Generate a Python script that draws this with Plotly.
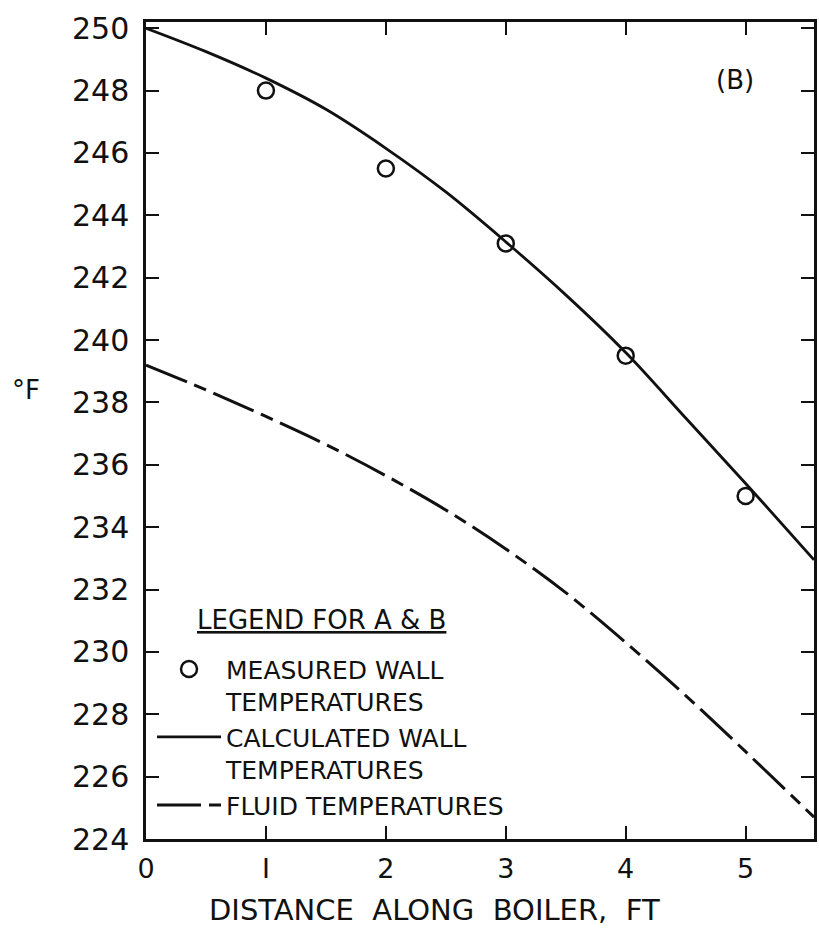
"""Boiler wall and fluid temperatures along the boiler length (panel B)."""

import plotly.graph_objects as go

# Measured wall temperatures (open circles)
measured_x = [1, 2, 3, 4, 5]
measured_t = [248.0, 245.5, 243.1, 239.5, 235.0]

# Calculated wall temperatures (solid curve)
curve_x = [0, 0.5, 1, 1.5, 2, 2.5, 3, 3.5, 4, 4.5, 5, 5.57]
calc_wall_t = [250.0, 249.25, 248.4, 247.4, 246.15, 244.75, 243.15, 241.45, 239.6, 237.5, 235.4, 232.95]

# Fluid temperatures (dash-dot curve)
fluid_t = [239.2, 238.4, 237.55, 236.65, 235.65, 234.55, 233.3, 231.9, 230.3, 228.6, 226.8, 224.7]

x_ticks = [0, 1, 2, 3, 4, 5]
x_tick_text = ["0", "I", "2", "3", "4", "5"]
y_ticks = list(range(224, 251, 2))

FONT = "DejaVu Sans"
INK = "#111111"

fig = go.Figure()

fig.add_trace(go.Scatter(
    x=measured_x, y=measured_t,
    mode="markers",
    name="MEASURED WALL<br>TEMPERATURES",
    marker=dict(symbol="circle-open", size=16, color=INK, line=dict(width=2.5, color=INK)),
))
fig.add_trace(go.Scatter(
    x=curve_x, y=calc_wall_t,
    mode="lines",
    line_shape="spline",
    name="CALCULATED WALL<br>TEMPERATURES",
    line=dict(color=INK, width=2.8),
))
fig.add_trace(go.Scatter(
    x=curve_x, y=fluid_t,
    mode="lines",
    line_shape="spline",
    name="FLUID TEMPERATURES",
    line=dict(color=INK, width=3, dash="44px,8px,13px,8px"),
))

axis_common = dict(
    showline=True, linecolor=INK, linewidth=2.5,
    mirror="ticks", ticks="inside", ticklen=13, tickwidth=2, tickcolor=INK,
    showgrid=False, zeroline=False,
    fixedrange=True,
)

fig.update_layout(
    width=819, height=931,
    margin=dict(l=146, r=2, t=22, b=92),
    paper_bgcolor="white", plot_bgcolor="white",
    font=dict(family=FONT, color=INK),
    xaxis=dict(range=[0, 5.57], tickvals=x_ticks, ticktext=x_tick_text,
               ticklabelstandoff=4, tickfont=dict(family=FONT, size=27, color=INK),
               **axis_common),
    yaxis=dict(range=[224, 250.2], tickvals=y_ticks,
               ticklabelstandoff=8, tickfont=dict(family=FONT, size=30, color=INK),
               **axis_common),
    showlegend=True,
    legend=dict(
        x=0.009, y=0.236, xanchor="left", yanchor="top",
        bgcolor="rgba(0,0,0,0)", borderwidth=0,
        font=dict(family=FONT, size=25, color=INK),
        itemwidth=64, tracegroupgap=0, valign="top",
    ),
    annotations=[
        dict(text="<u>LEGEND FOR A & B</u>", xref="paper", yref="paper",
             x=(322 - 146) / 671, y=(839 - 620) / 817, xanchor="center", yanchor="middle",
             showarrow=False, font=dict(family=FONT, size=26, color=INK)),
        dict(text="(B)", xref="paper", yref="paper", x=0.881, y=0.929,
             xanchor="center", yanchor="middle",
             showarrow=False, font=dict(family=FONT, size=26, color=INK)),
        dict(text="°F", xref="paper", yref="paper", x=-0.18, y=0.55,
             xanchor="center", yanchor="middle",
             showarrow=False, font=dict(family=FONT, size=26, color=INK)),
        dict(text="DISTANCE  ALONG  BOILER,  FT", xref="paper", yref="paper",
             x=0.432, y=-0.087, xanchor="center", yanchor="middle", showarrow=False,
             font=dict(family=FONT, size=29, color=INK)),
    ],
)

fig.write_html("out.html", config={"displayModeBar": False},
               post_script="document.body.style.margin='0';")
